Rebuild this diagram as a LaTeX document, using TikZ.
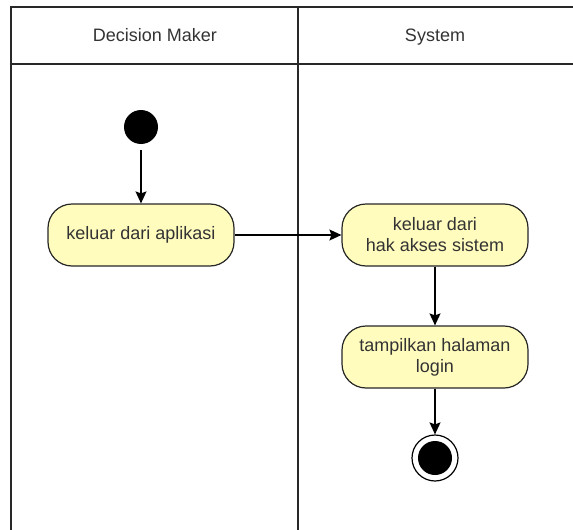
\documentclass[tikz,border=0pt]{standalone}
\usepackage{fontspec}
\setmainfont{Liberation Sans}
\usetikzlibrary{arrows.meta}

\definecolor{actfill}{RGB}{255,252,190}
\definecolor{lanegray}{RGB}{40,40,40}

\begin{document}
\begin{tikzpicture}[x=1pt, y=-1pt,
	every node/.style={font=\fontsize{18}{21}\selectfont, text=black!80},
	act/.style={rectangle, rounded corners=24pt, draw=black!85, line width=1.2pt, fill=actfill, minimum width=186pt, minimum height=62pt, align=center, inner sep=0pt},
	initial/.style={circle, fill=black, minimum size=34pt, inner sep=0pt},
	final/.style={circle, draw=black, line width=1.2pt, fill=white, minimum size=46pt, inner sep=0pt},
	finaldot/.style={circle, fill=black, minimum size=34pt, inner sep=0pt},
	flow/.style={draw=black, line width=1.4pt, -{Stealth[length=12pt, width=11pt, inset=2pt]}},
	lane/.style={draw=lanegray, line width=1.8pt},
	title/.style={text height=13pt, text depth=4pt}]
				\useasboundingbox (0,0) rectangle (573,530);
				
				% swimlanes
				\draw[lane] (573,7) -- (11,7) -- (11,530);
				\draw[lane] (11,64) -- (573,64);
				\draw[lane] (298,7) -- (298,530);
				\node[title] (dm) at (155,37) {Decision Maker};
				\node[title] (sys) at (435,37) {System};
				
				\node[initial] (start) at (141,127) {};
				\node[act] (exit) at (141,235) {keluar dari aplikasi};
				\node[act] (revoke) at (435,235) {keluar dari\\hak akses sistem};
				\node[act] (login) at (435,357) {tampilkan halaman\\login};
				\node[final] (stop) at (435,458) {};
				\node[finaldot] (stopdot) at (stop) {};
				
				\path[flow, shorten <=6pt] (start) edge (exit);
				\path[flow] (exit) edge (revoke);
				\path[flow] (revoke) edge (login);
				\path[flow] (login) edge (stop);
\end{tikzpicture}
\end{document}
